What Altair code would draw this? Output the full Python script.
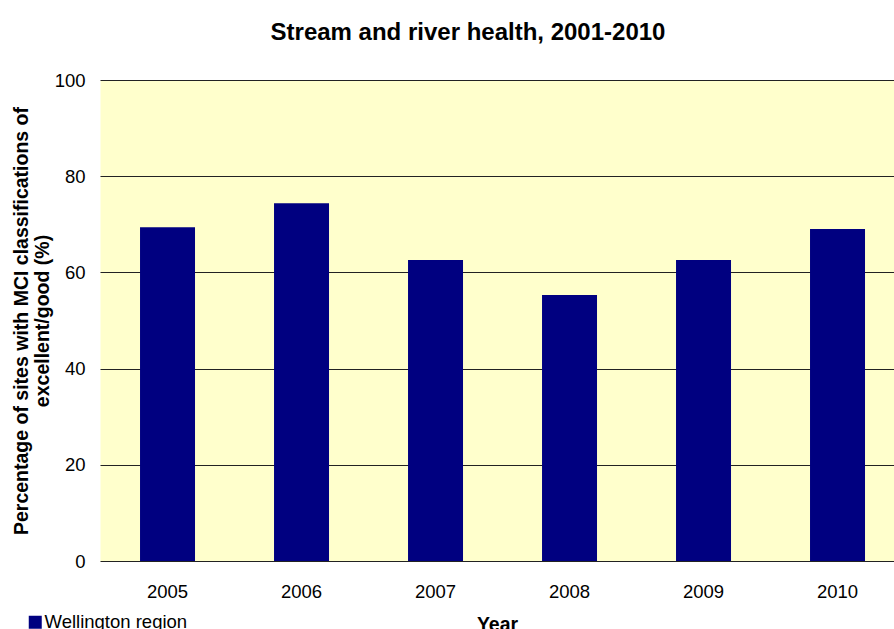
import altair as alt
import pandas as pd

# Share of monitored sites rated excellent/good on the MCI, by year
years = ["2005", "2006", "2007", "2008", "2009", "2010"]
pct_excellent_good = [69.4, 74.4, 62.6, 55.3, 62.6, 69.0]
series_name = "Wellington region"
y_ticks = [0, 20, 40, 60, 80, 100]

df = pd.DataFrame({
    "year": years,
    "pct": pct_excellent_good,
    "series": [series_name] * len(years),
})

FONT = "Liberation Sans"

bars = alt.Chart(df).mark_bar().encode(
    x=alt.X(
        "year:O",
        scale=alt.Scale(paddingInner=0.5896, paddingOuter=0.2575, align=0.58),
        axis=alt.Axis(
            title="Year",
            labelAngle=0,
            labelFontSize=18.5,
            labelPadding=21,
            ticks=False,
            domain=False,
            grid=False,
            titleFontSize=19.5,
            titleFontWeight="bold",
            titleY=54.5,
            titleBaseline="top",
        ),
    ),
    y=alt.Y(
        "pct:Q",
        scale=alt.Scale(domain=[0, 100], nice=False),
        axis=alt.Axis(
            title=["Percentage of sites with MCI classifications of",
                   "excellent/good (%)"],
            values=y_ticks,
            grid=True,
            gridColor="#222222",
            gridWidth=1,
            ticks=False,
            domain=False,
            labelPadding=15,
            labelFontSize=18.5,
            titleFontSize=19.5,
            titleFontWeight="bold",
            titleAngle=270,
            titleX=-73,
            titleY=240.5,
            titleAlign="center",
            titleBaseline="alphabetic",
            titleLineHeight=21,
        ),
    ),
    color=alt.Color(
        "series:N",
        scale=alt.Scale(domain=[series_name], range=["#000080"]),
        legend=alt.Legend(
            title=None,
            orient="none",
            legendX=-74,
            legendY=533,
            symbolType="square",
            symbolSize=169,
            symbolStrokeWidth=0,
            labelFontSize=18.5,
            labelOffset=0,
            padding=0,
        ),
    ),
)

chart = bars.properties(
    width=794,
    height=481,
    title=alt.Title(
        text="Stream and river health, 2001-2010",
        fontSize=24,
        fontWeight="bold",
        anchor="middle",
        frame="group",
        dx=-29,
        offset=7,
        baseline="alphabetic",
        color="black",
    ),
    padding={"left": 100, "top": 80, "right": 0, "bottom": 68},
    autosize=alt.AutoSizeParams(type="none"),
).configure(
    font=FONT,
    background="white",
).configure_view(
    fill="#FFFFCC",
    stroke="transparent",
).configure_axis(
    labelColor="black",
    titleColor="black",
).configure_legend(
    labelColor="black",
)

chart.save("out.html", embed_options={"renderer": "svg", "actions": False})
